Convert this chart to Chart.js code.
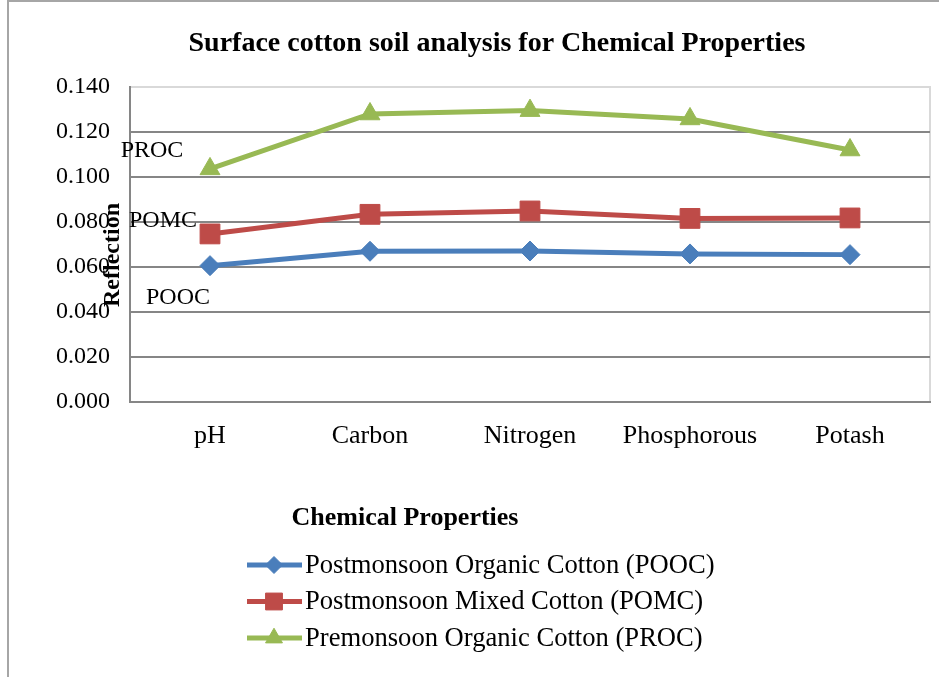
<!DOCTYPE html>
<html>
<head>
<meta charset="utf-8">
<script src="https://cdn.jsdelivr.net/npm/chart.js@4/dist/chart.umd.min.js"></script>
<style>
  html, body { margin: 0; padding: 0; background: #fff; }
  canvas { display: block; }
</style>
</head>
<body>
<canvas id="chart" width="939" height="677"></canvas>
<script>
// values
var categories = ["pH", "Carbon", "Nitrogen", "Phosphorous", "Potash"];
var pooc = [0.0606, 0.0670, 0.0671, 0.0658, 0.0655];
var pomc = [0.0747, 0.0834, 0.0849, 0.0816, 0.0818];
var proc = [0.1036, 0.1280, 0.1295, 0.1258, 0.1120];
var seriesNames = [
    "Postmonsoon Organic Cotton (POOC)",
    "Postmonsoon Mixed Cotton (POMC)",
    "Premonsoon Organic Cotton (PROC)"
];
var shortNames = ["POOC", "POMC", "PROC"];

var serif = "'Liberation Serif', 'Times New Roman', serif";

// frame, plot border, and all the loose text of the picture
var extras = {
    id: "extras",
    beforeDraw: function (chart) {
        let ctx = chart.ctx;
        let a = chart.chartArea;
        ctx.save();
        ctx.fillStyle = "#fff";
        ctx.fillRect(0, 0, chart.width, chart.height);
        ctx.strokeStyle = "#a6a6a6";
        ctx.lineWidth = 2;
        ctx.beginPath();
        ctx.moveTo(8, chart.height);
        ctx.lineTo(8, 1);
        ctx.lineTo(chart.width, 1);
        ctx.stroke();
        ctx.strokeStyle = "#d9d9d9";
        ctx.lineWidth = 2;
        ctx.strokeRect(a.left, a.top, a.right - a.left, a.bottom - a.top);
        ctx.restore();
    },
    afterDraw: function (chart) {
        let ctx = chart.ctx;
        let x = chart.scales.x;
        let y = chart.scales.y;
        ctx.save();
        ctx.fillStyle = "#000";
        ctx.textAlign = "center";
        ctx.textBaseline = "middle";

        ctx.font = "bold 28px " + serif;
        ctx.fillText("Surface cotton soil analysis for Chemical Properties", 497, 44);
        ctx.font = "bold 26px " + serif;
        ctx.fillText("Chemical Properties", 405, 518);

        // labels next to the lines
        ctx.font = "24px " + serif;
        let x0 = x.getPixelForValue(0);
        ctx.fillText(shortNames[2], x0 - 58, y.getPixelForValue(0.1116));
        ctx.fillText(shortNames[1], x0 - 47, y.getPixelForValue(0.0804));
        ctx.fillText(shortNames[0], x0 - 32, y.getPixelForValue(0.0462));

        // y title, drawn over the tick labels like the original
        ctx.font = "bold 24px " + serif;
        ctx.translate(113, 255);
        ctx.rotate(-Math.PI / 2);
        ctx.fillText("Reflection", 0, 0);
        ctx.setTransform(1, 0, 0, 1, 0, 0);

        // legend, one entry a row
        ctx.textAlign = "left";
        ctx.font = "26.6px " + serif;
        chart.data.datasets.forEach(function (ds, i) {
            let ly = 565 + i * 36.5;
            ctx.strokeStyle = ds.borderColor;
            ctx.lineWidth = 5;
            ctx.beginPath();
            ctx.moveTo(247, ly);
            ctx.lineTo(302, ly);
            ctx.stroke();
            ctx.fillStyle = ds.backgroundColor;
            ctx.lineWidth = 1;
            Chart.helpers.drawPoint(ctx, {
                pointStyle: ds.pointStyle,
                radius: ds.pointRadius * 0.85,
                rotation: 0,
                borderWidth: 1
            }, 274, ly);
            ctx.fillStyle = "#000";
            ctx.fillText(ds.label, 305, ly + 1);
        });
        ctx.restore();
    }
};

function series(label, data, color, style, radius) {
    return {
        label: label,
        data: data,
        borderColor: color,
        backgroundColor: color,
        borderWidth: 5,
        pointStyle: style,
        pointRadius: radius,
        pointHoverRadius: radius,
        pointBorderWidth: 1,
        tension: 0
    };
}

new Chart(document.getElementById("chart").getContext("2d"), {
    type: "line",
    data: {
        labels: categories,
        datasets: [
            series(seriesNames[0], pooc, "#4a7ebb", "rectRot", 10),
            series(seriesNames[1], pomc, "#be4b48", "rect", 14),
            series(seriesNames[2], proc, "#98b954", "triangle", 11.5)
        ]
    },
    options: {
        responsive: false,
        animation: false,
        layout: { autoPadding: false, padding: { left: 56, top: 87, right: 9, bottom: 223 } },
        plugins: {
            legend: { display: false },
            title: { display: false },
            tooltip: { enabled: false }
        },
        scales: {
            x: {
                offset: true,
                grid: { display: true, drawOnChartArea: false, drawTicks: false },
                border: { display: true, color: "#868686", width: 2 },
                ticks: { color: "#000", font: { family: serif, size: 26 }, padding: 19 },
                afterFit: function (s) {
                    s.height = 52;
                    s.paddingLeft = 0;
                    s.paddingRight = 0;
                }
            },
            y: {
                min: 0,
                max: 0.14,
                border: { display: true, color: "#868686", width: 2 },
                grid: {
                    drawTicks: false,
                    lineWidth: 2,
                    color: function (c) {
                        return c.tick && c.tick.value >= 0.139 ? "#d9d9d9" : "#868686";
                    }
                },
                ticks: {
                    stepSize: 0.02,
                    color: "#000",
                    padding: 20,
                    font: { family: serif, size: 24 },
                    callback: function (value) {
                        return value.toFixed(3);
                    }
                },
                afterFit: function (s) { s.width = 74; }
            }
        }
    },
    plugins: [extras]
});
</script>
</body>
</html>
